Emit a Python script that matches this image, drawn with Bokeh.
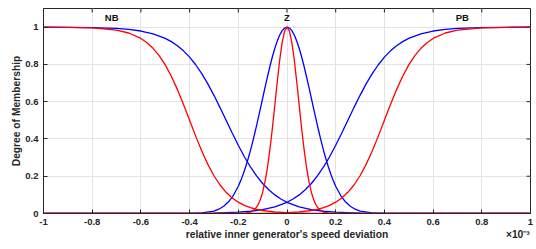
from bokeh.plotting import figure
from bokeh.models import Range1d, FixedTicker, LinearAxis
from bokeh.core.properties import value
from bokeh.embed import file_html
from bokeh.resources import INLINE

# ---------------- data ----------------
x_ticks = [-1, -0.8, -0.6, -0.4, -0.2, 0, 0.2, 0.4, 0.6, 0.8, 1]
x_tick_labels = ["-1", "-0.8", "-0.6", "-0.4", "-0.2", "0", "0.2", "0.4", "0.6", "0.8", "1"]
y_ticks = [0, 0.2, 0.4, 0.6, 0.8, 1]
y_tick_labels = ["0", "0.2", "0.4", "0.6", "0.8", "1"]
set_names = ["NB", "Z", "PB"]
set_centers = [-0.72, 0, 0.72]
x_title = "relative inner generator's speed deviation"
y_title = "Degree of Membership"
x_multiplier = "\u00d710\u207b\u00b3"

# blue set (wide)
blue_nb_x = [-1, -0.9, -0.8, -0.7, -0.65, -0.6, -0.55, -0.5, -0.475, -0.45, -0.425, -0.4,
             -0.375, -0.35, -0.325, -0.3, -0.275, -0.25, -0.225, -0.2, -0.175, -0.15, -0.125,
             -0.1, -0.075, -0.05, -0.025, 0, 0.05, 0.1, 0.15, 0.2, 0.3, 0.4, 0.6, 1]
blue_nb_y = [0.9997, 0.9992, 0.9976, 0.9930, 0.9879, 0.9792, 0.9644, 0.9399, 0.9223, 0.9002,
             0.8727, 0.8389, 0.7982, 0.7503, 0.6953, 0.6341, 0.5683, 0.5, 0.4317, 0.3659,
             0.3047, 0.2497, 0.2018, 0.1611, 0.1273, 0.0998, 0.0777, 0.0601, 0.0356, 0.0208,
             0.0121, 0.0070, 0.0024, 0.0008, 0.0001, 0.0]
blue_z_x = [-1, -0.5, -0.4, -0.35, -0.3, -0.28, -0.26, -0.24, -0.22, -0.2, -0.19, -0.18, -0.17,
            -0.16, -0.15, -0.14, -0.13, -0.12, -0.11, -0.1, -0.09, -0.08, -0.07, -0.06, -0.05,
            -0.04, -0.03, -0.02, -0.01, 0, 0.01, 0.02, 0.03, 0.04, 0.05, 0.06, 0.07, 0.08, 0.09,
            0.1, 0.11, 0.12, 0.13, 0.14, 0.15, 0.16, 0.17, 0.18, 0.19, 0.2, 0.22, 0.24, 0.26,
            0.28, 0.3, 0.35, 0.4, 0.5, 1]
blue_z_y = [0.0, 0.0, 0.0005, 0.0028, 0.0132, 0.0231, 0.0388, 0.0628, 0.0977, 0.1463, 0.1764,
            0.2108, 0.2494, 0.2922, 0.3391, 0.3899, 0.4439, 0.5005, 0.5591, 0.6184, 0.6776,
            0.7352, 0.7902, 0.8411, 0.8868, 0.9260, 0.9577, 0.9810, 0.9952, 1.0, 0.9952,
            0.9810, 0.9577, 0.9260, 0.8868, 0.8411, 0.7902, 0.7352, 0.6776, 0.6184, 0.5591,
            0.5005, 0.4439, 0.3899, 0.3391, 0.2922, 0.2494, 0.2108, 0.1764, 0.1463, 0.0977,
            0.0628, 0.0388, 0.0231, 0.0132, 0.0028, 0.0005, 0.0, 0.0]
blue_pb_x = [-1, -0.6, -0.4, -0.3, -0.2, -0.15, -0.1, -0.05, 0, 0.025, 0.05, 0.075, 0.1, 0.125,
             0.15, 0.175, 0.2, 0.225, 0.25, 0.275, 0.3, 0.325, 0.35, 0.375, 0.4, 0.425, 0.45,
             0.475, 0.5, 0.55, 0.6, 0.65, 0.7, 0.8, 0.9, 1]
blue_pb_y = [0.0, 0.0001, 0.0008, 0.0024, 0.0070, 0.0121, 0.0208, 0.0356, 0.0601, 0.0777,
             0.0998, 0.1273, 0.1611, 0.2018, 0.2497, 0.3047, 0.3659, 0.4317, 0.5, 0.5683,
             0.6341, 0.6953, 0.7503, 0.7982, 0.8389, 0.8727, 0.9002, 0.9223, 0.9399, 0.9644,
             0.9792, 0.9879, 0.9930, 0.9976, 0.9992, 0.9997]

# red set (narrow)
red_nb_x = [-1, -0.9, -0.8, -0.7, -0.65, -0.6, -0.575, -0.55, -0.525, -0.5, -0.475, -0.45,
            -0.425, -0.4, -0.375, -0.35, -0.325, -0.3, -0.275, -0.25, -0.225, -0.2, -0.175,
            -0.15, -0.125, -0.1, -0.05, 0, 0.1, 0.2, 0.4, 1]
red_nb_y = [0.9997, 0.9989, 0.9958, 0.9839, 0.9685, 0.9393, 0.9166, 0.8864, 0.8471, 0.7974,
            0.7364, 0.6648, 0.5848, 0.5, 0.4152, 0.3352, 0.2636, 0.2026, 0.1529, 0.1136,
            0.0834, 0.0607, 0.0439, 0.0315, 0.0226, 0.0161, 0.0082, 0.0042, 0.0011, 0.0003,
            0.0, 0.0]
red_z_x = [-1, -0.3, -0.2, -0.17, -0.15, -0.14, -0.13, -0.12, -0.11, -0.1, -0.09, -0.08, -0.07,
           -0.06, -0.05, -0.04, -0.03, -0.02, -0.01, 0, 0.01, 0.02, 0.03, 0.04, 0.05, 0.06,
           0.07, 0.08, 0.09, 0.1, 0.11, 0.12, 0.13, 0.14, 0.15, 0.17, 0.2, 0.3, 1]
red_z_y = [0.0, 0.0, 0.0002, 0.0019, 0.0076, 0.0142, 0.0255, 0.0439, 0.0724, 0.1142, 0.1724,
           0.2494, 0.3453, 0.4579, 0.5813, 0.7067, 0.8226, 0.9169, 0.9785, 1.0, 0.9785,
           0.9169, 0.8226, 0.7067, 0.5813, 0.4579, 0.3453, 0.2494, 0.1724, 0.1142, 0.0724,
           0.0439, 0.0255, 0.0142, 0.0076, 0.0019, 0.0002, 0.0, 0.0]
red_pb_x = [-1, -0.4, -0.2, -0.1, 0, 0.05, 0.1, 0.125, 0.15, 0.175, 0.2, 0.225, 0.25, 0.275,
            0.3, 0.325, 0.35, 0.375, 0.4, 0.425, 0.45, 0.475, 0.5, 0.525, 0.55, 0.575, 0.6,
            0.65, 0.7, 0.8, 0.9, 1]
red_pb_y = [0.0, 0.0, 0.0003, 0.0011, 0.0042, 0.0082, 0.0161, 0.0226, 0.0315, 0.0439, 0.0607,
            0.0834, 0.1136, 0.1529, 0.2026, 0.2636, 0.3352, 0.4152, 0.5, 0.5848, 0.6648,
            0.7364, 0.7974, 0.8471, 0.8864, 0.9166, 0.9393, 0.9685, 0.9839, 0.9958, 0.9989,
            0.9997]

# ---------------- styles ----------------
FONT = "Liberation Sans"
DARK = "#262626"
GRID = "#e3e3e3"
BLUE = "#0000ff"
RED = "#ff0000"
LW = 1.3
X0, X1, Y0, Y1 = -1, 1, 0, 1.1

p = figure(width=536, height=249, x_range=Range1d(X0, X1), y_range=Range1d(Y0, Y1),
           output_backend="svg", toolbar_location=None,
           min_border_left=43, min_border_right=6, min_border_top=8, min_border_bottom=36)
p.background_fill_color = "white"
p.border_fill_color = "white"
p.outline_line_color = DARK
p.outline_line_width = 1

xt = FixedTicker(ticks=x_ticks)
yt = FixedTicker(ticks=y_ticks)

xa = p.below[0]
ya = p.left[0]
xa.ticker = xt
ya.ticker = yt
xa.major_label_overrides = {t: s for t, s in zip(x_ticks, x_tick_labels)}
ya.major_label_overrides = {t: s for t, s in zip(y_ticks, y_tick_labels)}
ya.axis_label = y_title
for ax in (xa, ya):
    ax.axis_line_color = DARK
    ax.major_tick_line_color = DARK
    ax.major_tick_in = 4
    ax.major_tick_out = 0
    ax.minor_tick_line_color = None
    ax.major_label_text_font = FONT
    ax.major_label_text_font_style = "bold"
    ax.major_label_text_font_size = "9.5px"
    ax.major_label_text_color = DARK
    ax.axis_label_text_font = FONT
    ax.axis_label_text_font_style = "bold"
    ax.axis_label_text_font_size = "10.25px"
    ax.axis_label_text_color = DARK
xa.major_label_standoff = 5
ya.major_label_standoff = 5
ya.axis_label_standoff = 0

# second row under the x axis: the axis title (centred) and the x10^-3 multiplier (right)
title_row = LinearAxis(ticker=FixedTicker(ticks=[0, 0.948]),
                       major_label_overrides={0: x_title, 0.948: x_multiplier},
                       axis_line_color=None, major_tick_line_color=None,
                       minor_tick_line_color=None, major_tick_in=0, major_tick_out=0,
                       major_label_standoff=1, major_label_text_font=FONT,
                       major_label_text_font_style="bold",
                       major_label_text_font_size="10.25px", major_label_text_color=DARK)
p.add_layout(title_row, "below")

# inward ticks on the top and right edges of the box
p.ray(x=x_ticks, y=[Y1] * len(x_ticks), length=4, length_units="screen",
      angle=-90, angle_units="deg", line_color=DARK, line_width=1)
p.ray(x=[X1] * len(y_ticks), y=y_ticks, length=4, length_units="screen",
      angle=180, angle_units="deg", line_color=DARK, line_width=1)

p.xgrid.ticker = xt
p.ygrid.ticker = yt
p.xgrid.grid_line_color = GRID
p.ygrid.grid_line_color = GRID

for xs, ys in ((blue_nb_x, blue_nb_y), (blue_z_x, blue_z_y), (blue_pb_x, blue_pb_y)):
    p.line(xs, ys, line_color=BLUE, line_width=LW)
for xs, ys in ((red_nb_x, red_nb_y), (red_z_x, red_z_y), (red_pb_x, red_pb_y)):
    p.line(xs, ys, line_color=RED, line_width=LW)

p.text(x=set_centers, y=[1.05] * 3, text=set_names, text_font=value(FONT),
       text_font_style="bold", text_font_size="9.5px", text_color="#111111",
       text_align="center", text_baseline="middle")

open("out.html", "w").write(file_html(p, INLINE))
